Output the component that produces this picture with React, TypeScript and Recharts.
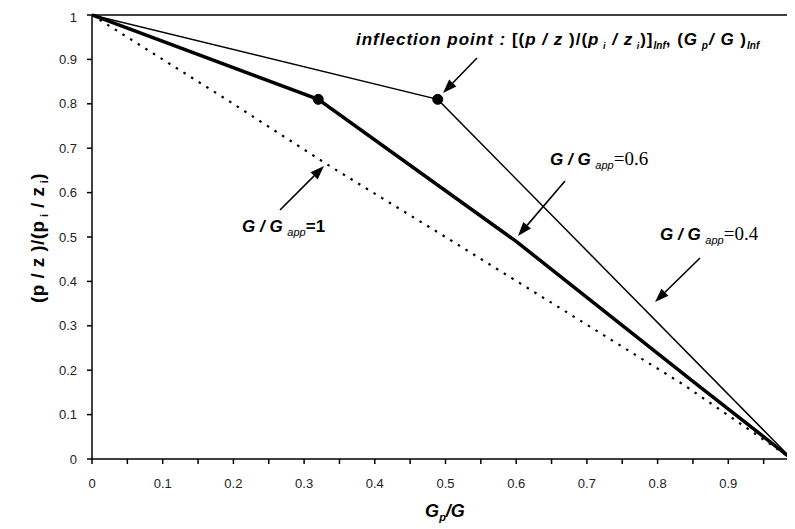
import { LineChart, Line, XAxis, YAxis, ReferenceLine, ReferenceDot } from "recharts";

// x = Gp/G, y = (p/z)/(pi/zi)
const xTicks = [0, 0.05, 0.1, 0.15, 0.2, 0.25, 0.3, 0.35, 0.4, 0.45, 0.5, 0.55, 0.6, 0.65, 0.7, 0.75, 0.8, 0.85, 0.9, 0.95];
const yTicks = [0, 0.05, 0.1, 0.15, 0.2, 0.25, 0.3, 0.35, 0.4, 0.45, 0.5, 0.55, 0.6, 0.65, 0.7, 0.75, 0.8, 0.85, 0.9, 0.95, 1];

// G/Gapp = 1 (dotted)
const unitX = [0, 0.191, 0.33, 0.5, 0.837, 0.99];
const unitY = [1, 0.809, 0.666, 0.5, 0.167, 0];

// G/Gapp = 0.6 (thick)
const sixX = [0, 0.32, 0.6, 0.85, 0.99];
const sixY = [1, 0.81, 0.49, 0.175, 0];
const sixInflection = 1;

// G/Gapp = 0.4 (thin)
const fourX = [0, 0.489, 0.99];
const fourY = [1, 0.81, 0];
const fourInflection = 1;

const toPoints = (xs: number[], ys: number[]) => xs.map((x, i) => ({ x, y: ys[i] }));

const isMajor = (v: number) => Math.abs(v * 10 - Math.round(v * 10)) < 1e-6;
const fmt = (v: number) => String(Math.round(v * 10) / 10);

const tickFont = { fontFamily: "'Liberation Sans', Arial, sans-serif", fontSize: 13, fill: "#222" };

const XTick = (props: any) => {
  const { x, y, payload } = props;
  if (!isMajor(payload.value)) return <g />;
  return (
    <text x={x} y={y} dy="0.71em" textAnchor="middle" {...tickFont}>
      {fmt(payload.value)}
    </text>
  );
};

const YTick = (props: any) => {
  const { x, y, payload } = props;
  if (!isMajor(payload.value)) return <g />;
  return (
    <text x={x} y={y} dy="0.355em" textAnchor="end" {...tickFont}>
      {fmt(payload.value)}
    </text>
  );
};

const Arrow = ({ x1, y1, x2, y2 }: { x1: number; y1: number; x2: number; y2: number }) => {
  const a = Math.atan2(y2 - y1, x2 - x1);
  const len = 14;
  const w = 5;
  const bx = x2 - len * Math.cos(a);
  const by = y2 - len * Math.sin(a);
  const px = -Math.sin(a) * w;
  const py = Math.cos(a) * w;
  return (
    <g>
      <line x1={x1} y1={y1} x2={bx} y2={by} stroke="#000" strokeWidth={1.6} />
      <polygon points={`${x2},${y2} ${bx + px},${by + py} ${bx - px},${by - py}`} fill="#000" />
    </g>
  );
};

const sans = "'Liberation Sans', Arial, sans-serif";
const serif = "'Liberation Serif', 'Times New Roman', serif";

const GappLabel = ({ x, y, value, serifValue }: { x: number; y: number; value: string; serifValue?: boolean }) => (
  <text x={x} y={y} fontFamily={sans} fontSize={17} fontWeight="bold" fill="#000">
    <tspan fontStyle="italic">G / G </tspan>
    <tspan fontStyle="italic" fontWeight="normal" fontSize={11} dy={4}>app</tspan>
    <tspan
      dy={-4}
      fontFamily={serifValue ? serif : sans}
      fontSize={serifValue ? 19 : 17}
      fontWeight={serifValue ? "normal" : "bold"}
    >
      ={value}
    </tspan>
  </text>
);

export default function App() {
  return (
    <div style={{ position: "relative", width: 787, height: 521, overflow: "hidden", background: "#fff" }}>
      <LineChart width={800} height={513} margin={{ top: 7, right: 9, bottom: 32, left: 24 }}>
        <XAxis
          type="number"
          dataKey="x"
          domain={[0, 1]}
          ticks={xTicks}
          allowDataOverflow
          axisLine={{ stroke: "#000", strokeWidth: 1.5 }}
          tickLine={{ stroke: "#000", strokeWidth: 1.5 }}
          tickSize={5}
          tickMargin={15}
          height={30}
          tick={<XTick />}
        />
        <YAxis
          type="number"
          dataKey="y"
          domain={[0, 1]}
          ticks={yTicks}
          axisLine={{ stroke: "#000", strokeWidth: 1.5 }}
          tickLine={{ stroke: "#000", strokeWidth: 1.5 }}
          tickSize={5}
          tickMargin={10}
          width={60}
          tick={<YTick />}
        />
        <ReferenceLine y={1} stroke="#000" strokeWidth={1.5} />
        <Line
          data={toPoints(unitX, unitY)}
          dataKey="y"
          type="linear"
          stroke="#000"
          strokeWidth={2.2}
          strokeDasharray="2.5 6.5"
          dot={false}
          isAnimationActive={false}
        />
        <Line
          data={toPoints(fourX, fourY)}
          dataKey="y"
          type="linear"
          stroke="#000"
          strokeWidth={1.5}
          dot={false}
          isAnimationActive={false}
        />
        <Line
          data={toPoints(sixX, sixY)}
          dataKey="y"
          type="linear"
          stroke="#000"
          strokeWidth={3.5}
          dot={false}
          isAnimationActive={false}
        />
        <ReferenceDot x={sixX[sixInflection]} y={sixY[sixInflection]} r={5} fill="#000" stroke="#000" />
        <ReferenceDot x={fourX[fourInflection]} y={fourY[fourInflection]} r={5} fill="#000" stroke="#000" />
      </LineChart>

      <svg
        width={787}
        height={521}
        style={{ position: "absolute", left: 0, top: 0, pointerEvents: "none" }}
      >
        <g transform="translate(-8,-8)">
          {/* axis titles */}
          <text
            transform="translate(44,238) rotate(-90)"
            textAnchor="middle"
            fontFamily={sans}
            fontSize={19}
            fontWeight="bold"
            fill="#000"
            letterSpacing={0.4}
          >
            <tspan>(p / z )/(p</tspan>
            <tspan fontSize={11} dy={4}> i</tspan>
            <tspan dy={-4}> / z</tspan>
            <tspan fontSize={11} dy={4}> i</tspan>
            <tspan dy={-4}>)</tspan>
          </text>
          <text x={445} y={517} textAnchor="middle" fontFamily={sans} fontSize={18} fontWeight="bold" fontStyle="italic" fill="#000">
            <tspan>G</tspan>
            <tspan fontSize={11} dy={4}>p</tspan>
            <tspan dy={-4}>/G</tspan>
          </text>

          {/* inflection point note */}
          <text x={356} y={45} fontFamily={sans} fontSize={17} fontWeight="bold" fontStyle="italic" fill="#000" letterSpacing={1}>
            <tspan>inflection point :  </tspan>
            <tspan fontStyle="normal">[(</tspan>
            <tspan>p / z </tspan>
            <tspan fontStyle="normal">)/(</tspan>
            <tspan>p</tspan>
            <tspan fontSize={9} dy={4}> i</tspan>
            <tspan dy={-4}> / z</tspan>
            <tspan fontSize={9} dy={4}> i</tspan>
            <tspan dy={-4} fontStyle="normal">)]</tspan>
            <tspan fontSize={10} dy={4} letterSpacing={0}>Inf</tspan>
            <tspan dy={-4} fontStyle="normal">, (</tspan>
            <tspan>G</tspan>
            <tspan fontSize={10} dy={4}> p</tspan>
            <tspan dy={-4}>/ G </tspan>
            <tspan fontStyle="normal">)</tspan>
            <tspan fontSize={10} dy={4} letterSpacing={0}>Inf</tspan>
          </text>
          <Arrow x1={477} y1={58} x2={443} y2={93} />

          <GappLabel x={550} y={165} value="0.6" serifValue />
          <Arrow x1={565} y1={181} x2={518} y2={236} />

          <GappLabel x={660} y={240} value="0.4" serifValue />
          <Arrow x1={700} y1={258} x2={655} y2={302} />

          <GappLabel x={242} y={232} value="1" />
          <Arrow x1={280} y1={210} x2={324} y2={166} />
        </g>
      </svg>
    </div>
  );
}
